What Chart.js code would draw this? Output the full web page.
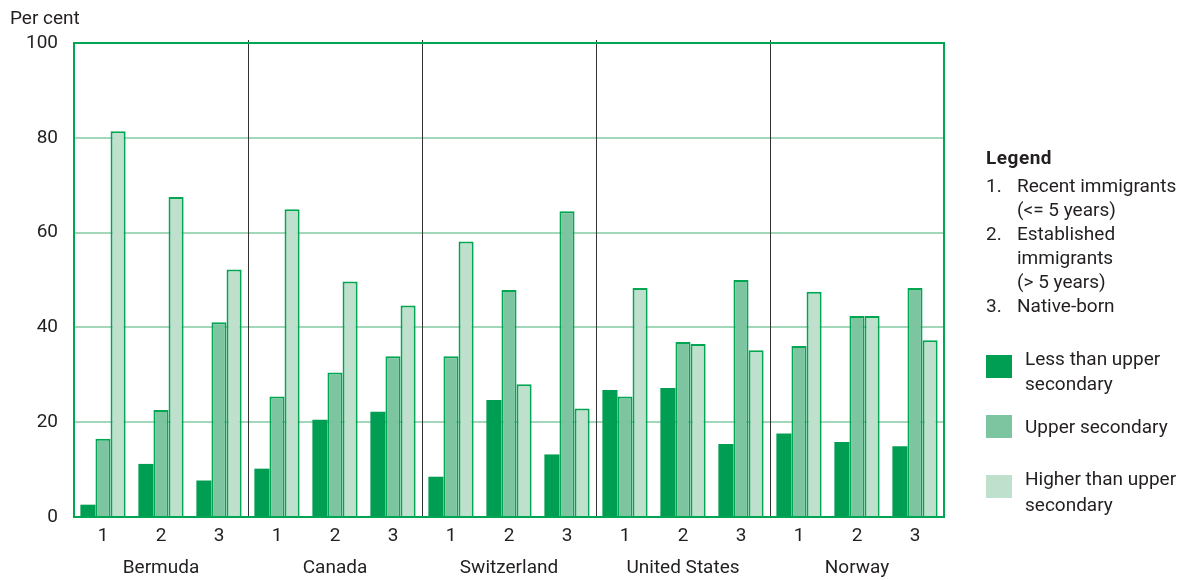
<!DOCTYPE html>
<html>
<head>
<meta charset="utf-8">
<script src="https://cdn.jsdelivr.net/npm/chart.js@4/dist/chart.umd.min.js"></script>
<style>
  body { margin: 0; background: #fff; font-family: Roboto, "Liberation Sans", sans-serif; color: #231f20; }
  #wrap { position: relative; width: 1195px; height: 580px; }
  #plot { position: absolute; left: 0; top: 0; }
  #unit { position: absolute; left: 10px; top: 6px; font-size: 19px; }
  #legend { position: absolute; left: 986px; top: 146px; font-size: 19px; line-height: 24px; }
  #legend .title { font-weight: bold; letter-spacing: 0.5px; margin-bottom: 4px; }
  #legend .num { display: flex; }
  #legend .num span:first-child { width: 31px; flex: none; }
  #legend .key { display: flex; align-items: flex-start; position: absolute; left: 0; width: 210px; }
  #legend .sw { width: 26px; height: 23px; flex: none; margin-right: 13px; }
</style>
</head>
<body>
<div id="wrap">
  <canvas id="plot" width="1195" height="580"></canvas>
  <div id="unit">Per cent</div>
  <div id="legend">
    <div class="title">Legend</div>
    <div class="num"><span>1.</span><span>Recent immigrants<br>(&lt;= 5 years)</span></div>
    <div class="num"><span>2.</span><span>Established<br>immigrants<br>(&gt; 5 years)</span></div>
    <div class="num"><span>3.</span><span>Native-born</span></div>
    <div class="key" style="top:209px"><div class="sw" style="background:#009e52"></div><span style="margin-top:-9px;line-height:25px">Less than upper<br>secondary</span></div>
    <div class="key" style="top:269px"><div class="sw" style="background:#7cc5a0"></div><span>Upper secondary</span></div>
    <div class="key" style="top:320px"><div class="sw" style="background:#bfe0cc;margin-top:9px"></div><span style="line-height:26px">Higher than upper<br>secondary</span></div>
  </div>
</div>
<script>
// Categories: 1 = recent immigrants, 2 = established immigrants, 3 = native-born
const groups = ['1', '2', '3', '1', '2', '3', '1', '2', '3', '1', '2', '3', '1', '2', '3'];
const countries = ['Bermuda', 'Canada', 'Switzerland', 'United States', 'Norway'];

// Per cent by educational attainment
const lessThanUpper   = [2.6, 11.2, 7.7, 10.2, 20.5, 22.2, 8.5, 24.7, 13.2, 26.8, 27.2, 15.4, 17.6, 15.8, 14.9];
const upperSecondary  = [16.5, 22.6, 41.1, 25.4, 30.5, 33.9, 33.9, 47.9, 64.5, 25.4, 36.9, 50.0, 36.1, 42.4, 48.3];
const higherThanUpper = [81.4, 67.5, 52.2, 64.9, 49.7, 44.6, 58.1, 28.0, 22.9, 48.3, 36.5, 35.2, 47.5, 42.4, 37.3];

const yTicks = [0, 20, 40, 60, 80, 100];

const GREEN = '#00a651';
const FONT = {family: 'Roboto, "Liberation Sans", sans-serif', size: 19};
const TEXT = '#231f20';

// separators between countries + green frame round the plot
const framePlugin = {
    id: 'frame',
    beforeDatasetsDraw: chart => {
        const {ctx, chartArea: a, scales: {x}} = chart;
        ctx.save();
        ctx.strokeStyle = '#333';
        ctx.lineWidth = 1;
        for (let i = 3; i < groups.length; i += 3) {
            const px = Math.round((x.getPixelForValue(i - 1) + x.getPixelForValue(i)) / 2) + 0.5;
            ctx.beginPath();
            ctx.moveTo(px, a.top - 3);
            ctx.lineTo(px, a.bottom);
            ctx.stroke();
        }
        ctx.restore();
    },
    afterDatasetsDraw: chart => {
        const {ctx, chartArea: a} = chart;
        ctx.save();
        ctx.strokeStyle = GREEN;
        ctx.lineWidth = 2;
        ctx.strokeRect(a.left, a.top, a.right - a.left, a.bottom - a.top);
        ctx.restore();
    }
};

new Chart(document.getElementById('plot'), {
    type: 'bar',
    data: {
        labels: groups,
        datasets: [
            {label: 'Less than upper secondary', data: lessThanUpper, backgroundColor: '#009e52', borderColor: '#009e52', borderWidth: 0},
            {label: 'Upper secondary', data: upperSecondary, backgroundColor: '#7cc5a0', borderColor: GREEN, borderWidth: 2},
            {label: 'Higher than upper secondary', data: higherThanUpper, backgroundColor: '#bfe0cc', borderColor: GREEN, borderWidth: 2}
        ]
    },
    options: {
        responsive: false,
        animation: false,
        layout: {padding: {top: 43, right: 251, bottom: 0, left: 0}},
        datasets: {bar: {categoryPercentage: 0.78, barPercentage: 1.0, borderSkipped: 'bottom'}},
        scales: {
            x: {
                type: 'category',
                offset: true,
                grid: {display: false, drawTicks: false},
                border: {display: false},
                ticks: {font: FONT, color: TEXT, padding: 8, maxRotation: 0, autoSkip: false},
                afterFit: s => { s.height = 34; }
            },
            country: {
                type: 'category',
                labels: countries,
                position: 'bottom',
                offset: true,
                grid: {display: false, drawTicks: false},
                border: {display: false},
                ticks: {font: FONT, color: TEXT, padding: 6, maxRotation: 0, autoSkip: false},
                afterFit: s => { s.height = 29; }
            },
            y: {
                min: 0,
                max: 100,
                afterBuildTicks: s => { s.ticks = yTicks.map(v => ({value: v})); },
                grid: {color: '#a3d7b9', lineWidth: 2, drawTicks: false},
                border: {display: false},
                ticks: {font: FONT, color: TEXT, padding: 16},
                afterFit: s => { s.width = 74; }
            }
        },
        plugins: {
            legend: {display: false},
            tooltip: {enabled: false}
        }
    },
    plugins: [framePlugin]
});
</script>
</body>
</html>
